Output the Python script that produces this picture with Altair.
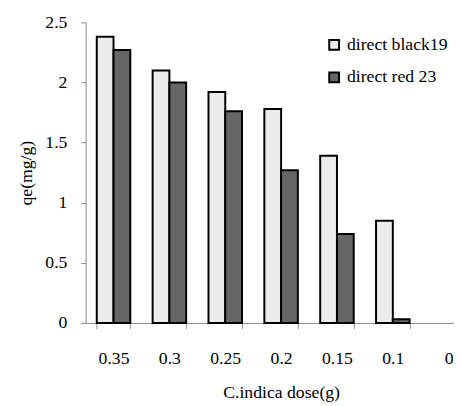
import altair as alt
import pandas as pd

doses = ["0.35", "0.3", "0.25", "0.2", "0.15", "0.1", "0"]
black19 = [2.38, 2.10, 1.92, 1.78, 1.39, 0.85, None]
red23 = [2.27, 2.00, 1.76, 1.27, 0.74, 0.03, None]
series = ["direct black19", "direct red 23"]

rows = []
for d, a, b in zip(doses, black19, red23):
    rows.append({"dose": d, "series": series[0], "qe": a})
    rows.append({"dose": d, "series": series[1], "qe": b})
df = pd.DataFrame(rows)

FONT = "Liberation Serif"

chart = alt.Chart(df).mark_bar(stroke="black", strokeWidth=2).encode(
    x=alt.X("dose:N", sort=doses,
            scale=alt.Scale(domain=doses, range=[0, 398], paddingInner=0.4, paddingOuter=0.2),
            axis=alt.Axis(title="C.indica dose(g)", labelAngle=0, tickBand="extent",
                          tickSize=6, labelPadding=21, titlePadding=17,
                          domainColor="#888888", tickColor="#888888")),
    xOffset=alt.XOffset("series:N", sort=series),
    y=alt.Y("qe:Q", scale=alt.Scale(domain=[0, 2.5], nice=False),
            axis=alt.Axis(title="qe(mg/g)", values=[0, 0.5, 1, 1.5, 2, 2.5], format="~g",
                          tickSize=5, labelPadding=14, titlePadding=10, grid=False,
                          domainColor="#888888", tickColor="#888888")),
    fill=alt.Fill("series:N", sort=series,
                  scale=alt.Scale(domain=series, range=["#ececec", "#666666"]),
                  legend=alt.Legend(title=None, orient="none", legendX=244, legendY=14,
                                    symbolType="square", symbolSize=100, symbolStrokeColor="black",
                                    symbolStrokeWidth=2, rowPadding=15, labelFontSize=18,
                                    labelFont=FONT, labelColor="black", labelOffset=4)),
).properties(
    width=375, height=306,
    autosize=alt.AutoSizeParams(type="none"),
    padding={"left": 79, "top": 11, "right": 0, "bottom": 85},
).configure_axis(
    labelFont=FONT, titleFont=FONT, labelFontSize=18, titleFontSize=18,
    labelColor="black", titleColor="black", titleFontWeight="normal",
).configure_view(stroke=None)

chart.save("out.html", embed_options={"renderer": "svg", "actions": False})
